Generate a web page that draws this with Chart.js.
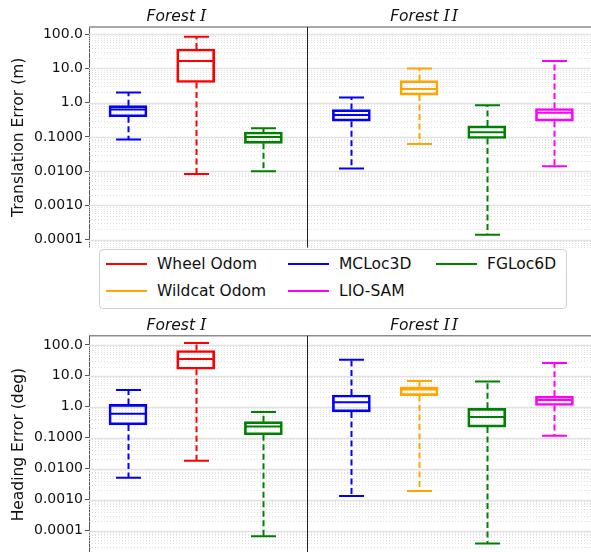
<!DOCTYPE html>
<html>
<head>
<meta charset="utf-8">
<script src="https://cdn.jsdelivr.net/npm/chart.js@4.4.1/dist/chart.umd.min.js"></script>
<style>
    html, body { margin: 0; padding: 0; background: #fff; overflow: hidden; }
    body { width: 591px; height: 552px; position: relative; font-family: "DejaVu Sans", sans-serif; }
    .panel { position: absolute; left: 0; width: 591px; }
    #topPanel { top: 0; height: 258px; }
    #bottomPanel { top: 300px; height: 264px; }
    #legend {
        position: absolute; left: 99px; top: 249px; width: 466px; height: 58px;
        border: 1px solid #d0d0d0; border-radius: 4px; background: #fff; z-index: 5;
    }
    .item { position: absolute; height: 20px; font-size: 15.5px; color: #111; white-space: nowrap; }
    .item .swatch { position: absolute; left: 0; top: 9px; width: 41px; height: 2px; }
    .item span.label { position: absolute; left: 51px; top: 0; line-height: 20px; }
</style>
</head>
<body>
<div class="panel" id="topPanel"><canvas id="transChart"></canvas></div>
<div class="panel" id="bottomPanel"><canvas id="headChart"></canvas></div>
<div id="legend"></div>

<script>
// x positions of the boxes (Forest I: 3 boxes, Forest II: 4 boxes)
const boxPositions = [1, 2, 3, 4.3, 5.3, 6.3, 7.3];
const boxMethods = ['MCLoc3D', 'Wheel Odom', 'FGLoc6D', 'MCLoc3D', 'Wildcat Odom', 'FGLoc6D', 'LIO-SAM'];
const groupTitles = ['Forest I', 'Forest II'];

// legend order (column-major, 3 columns)
const methods = ['Wheel Odom', 'Wildcat Odom', 'MCLoc3D', 'LIO-SAM', 'FGLoc6D'];
const methodColors = ['#ff0000', '#ffa500', '#0000ff', '#ff00ff', '#008000'];

// y tick labels
const yTickValues = [0.0001, 0.001, 0.01, 0.1, 1, 10, 100];
const yTickLabels = ['0.0001', '0.0010', '0.0100', '0.1000', '1.0', '10.0', '100.0'];

// Translation error (m)
const transLow = [0.085, 0.0083, 0.010, 0.012, 0.062, 0.00014, 0.014];
const transQ1 = [0.39, 3.9, 0.065, 0.29, 1.67, 0.09, 0.29];
const transMedian = [0.63, 16.6, 0.099, 0.44, 2.5, 0.137, 0.51];
const transQ3 = [0.82, 37, 0.14, 0.63, 4.4, 0.21, 0.68];
const transHigh = [2.0, 84, 0.18, 1.43, 10.0, 0.84, 16.6];

// Heading error (deg)
const headLow = [0.0051, 0.018, 0.000065, 0.0013, 0.0019, 0.000038, 0.116];
const headQ1 = [0.26, 16.3, 0.125, 0.68, 2.3, 0.22, 1.1];
const headMedian = [0.6, 35, 0.23, 1.41, 3.6, 0.47, 1.64];
const headQ3 = [1.19, 66, 0.33, 2.4, 4.4, 0.89, 2.2];
const headHigh = [3.5, 114, 0.68, 33, 6.8, 6.6, 26];

// Build one bar dataset per method; bars are the boxes (q1..q3)
function buildDatasets(low, q1, med, q3, high) {
    return methods.map((name, m) => {
        const stats = [];
        boxPositions.forEach((pos, i) => {
            if (boxMethods[i] === name) {
                stats.push({ pos: pos, low: low[i], q1: q1[i], med: med[i], q3: q3[i], high: high[i] });
            }
        });
        return {
            label: name,
            data: stats.map(s => ({ x: s.pos, y: [s.q1, s.q3] })),
            stats: stats,
            borderColor: methodColors[m],
            backgroundColor: 'rgba(0,0,0,0)',
            borderWidth: 2,
            borderSkipped: false,
            barThickness: 38
        };
    });
}

// Grid, whiskers, medians, divider and panel titles
const boxExtras = {
    id: 'boxExtras',
    beforeDatasetsDraw(chart) {
        const ctx = chart.ctx;
        const area = chart.chartArea;
        const y = chart.scales.y;
        const lo = Math.floor(Math.log10(y.min));
        const hi = Math.ceil(Math.log10(y.max));
        ctx.save();
        for (let e = lo; e <= hi; e++) {
            for (let k = 1; k <= 9; k++) {
                const v = k * Math.pow(10, e);
                if (v < y.min || v > y.max) continue;
                const py = Math.round(y.getPixelForValue(v)) + 0.5;
                ctx.beginPath();
                if (k === 1) {
                    ctx.setLineDash([]);
                    ctx.strokeStyle = '#e2e2e2';
                    ctx.lineWidth = 1.5;
                } else {
                    ctx.setLineDash([1, 2]);
                    ctx.strokeStyle = '#d8d8d8';
                    ctx.lineWidth = 0.8;
                }
                ctx.moveTo(area.left, py);
                ctx.lineTo(area.right, py);
                ctx.stroke();
            }
        }
        ctx.restore();
    },
    afterDatasetsDraw(chart) {
        const ctx = chart.ctx;
        const area = chart.chartArea;
        const x = chart.scales.x;
        const y = chart.scales.y;
        const capHalf = 12.5;
        const boxHalf = 18;
        ctx.save();
        chart.data.datasets.forEach(ds => {
            ds.stats.forEach(s => {
                const px = Math.round(x.getPixelForValue(s.pos)) + 0.5;
                ctx.strokeStyle = ds.borderColor;
                ctx.lineWidth = 2;
                // whiskers
                ctx.setLineDash([6, 3.5]);
                ctx.beginPath();
                ctx.moveTo(px, y.getPixelForValue(s.q3));
                ctx.lineTo(px, y.getPixelForValue(s.high));
                ctx.moveTo(px, y.getPixelForValue(s.q1));
                ctx.lineTo(px, y.getPixelForValue(s.low));
                ctx.stroke();
                // caps and median
                ctx.setLineDash([]);
                ctx.beginPath();
                ctx.moveTo(px - capHalf, y.getPixelForValue(s.high));
                ctx.lineTo(px + capHalf, y.getPixelForValue(s.high));
                ctx.moveTo(px - capHalf, y.getPixelForValue(s.low));
                ctx.lineTo(px + capHalf, y.getPixelForValue(s.low));
                ctx.moveTo(px - boxHalf, y.getPixelForValue(s.med));
                ctx.lineTo(px + boxHalf, y.getPixelForValue(s.med));
                ctx.stroke();
            });
        });

        // top spine
        ctx.strokeStyle = '#8c8c8c';
        ctx.lineWidth = 1.5;
        ctx.beginPath();
        ctx.moveTo(area.left, area.top);
        ctx.lineTo(area.right, area.top);
        ctx.stroke();

        // divider between the two forests
        const dx = Math.round(x.getPixelForValue(3.65)) + 0.5;
        ctx.strokeStyle = '#222';
        ctx.lineWidth = 1;
        ctx.beginPath();
        ctx.moveTo(dx, area.top);
        ctx.lineTo(dx, area.bottom);
        ctx.stroke();

        // panel titles
        ctx.fillStyle = '#111';
        ctx.textBaseline = 'alphabetic';
        const titleX = [1.73, 5.39];
        groupTitles.forEach((t, i) => {
            const parts = t.split(' ');
            const roman = parts[1].split('');
            ctx.font = 'italic 15.5px "DejaVu Sans"';
            const w1 = ctx.measureText(parts[0] + ' ').width;
            ctx.font = 'italic 16px "DejaVu Serif"';
            const wI = ctx.measureText('I').width + 2;
            const total = w1 + wI * roman.length;
            let cx = x.getPixelForValue(titleX[i]) - total / 2;
            const cy = area.top - 6;
            ctx.font = 'italic 15.5px "DejaVu Sans"';
            ctx.fillText(parts[0] + ' ', cx, cy);
            cx += w1;
            ctx.font = 'italic 16px "DejaVu Serif"';
            roman.forEach(ch => {
                ctx.fillText(ch, cx, cy);
                cx += wI;
            });
        });
        ctx.restore();
    }
};

function makeChart(canvasId, datasets, yTitle, yMin, yMax, padTop) {
    const ctx = document.getElementById(canvasId).getContext('2d');
    return new Chart(ctx, {
        type: 'bar',
        data: { datasets: datasets },
        plugins: [boxExtras],
        options: {
            responsive: true,
            maintainAspectRatio: false,
            animation: false,
            layout: { padding: { top: padTop, bottom: 0, left: 0, right: 0 } },
            datasets: { bar: { grouped: false } },
            plugins: {
                legend: { display: false },
                tooltip: { enabled: false }
            },
            scales: {
                x: {
                    type: 'linear',
                    display: false,
                    offset: false,
                    min: 0.424,
                    max: 7.84
                },
                y: {
                    type: 'logarithmic',
                    min: yMin,
                    max: yMax,
                    afterBuildTicks: function (scale) {
                        scale.ticks = yTickValues.map(v => ({ value: v, major: true }));
                    },
                    afterFit: function (scale) {
                        scale.width = 89;
                    },
                    ticks: {
                        autoSkip: false,
                        padding: 2,
                        color: '#111',
                        font: { family: 'DejaVu Sans', size: 14 },
                        callback: function (value, index) {
                            return yTickLabels[index];
                        }
                    },
                    grid: {
                        display: true,
                        drawOnChartArea: false,
                        drawTicks: true,
                        tickLength: 4,
                        color: '#555'
                    },
                    border: { display: true, color: '#555', width: 1 },
                    title: {
                        display: true,
                        text: yTitle,
                        color: '#111',
                        font: { family: 'DejaVu Sans', size: 15.5 },
                        padding: { top: 10, bottom: 0 }
                    }
                }
            }
        }
    });
}

makeChart('transChart', buildDatasets(transLow, transQ1, transMedian, transQ3, transHigh),
    'Translation Error (m)', 5.86e-5, 163, 27);
makeChart('headChart', buildDatasets(headLow, headQ1, headMedian, headQ3, headHigh),
    'Heading Error (deg)', 1.8e-5, 198, 35.7);

// HTML legend
const legendCols = [6, 188, 336];
const legendRows = [4, 31];
const legendEl = document.getElementById('legend');
methods.forEach((name, i) => {
    const col = Math.floor(i / 2);
    const row = i % 2;
    const item = document.createElement('div');
    item.className = 'item';
    item.style.left = legendCols[col] + 'px';
    item.style.top = legendRows[row] + 'px';
    item.innerHTML = '<div class="swatch" style="background:' + methodColors[i] + '"></div>' +
        '<span class="label">' + name + '</span>';
    legendEl.appendChild(item);
});
</script>
</body>
</html>
